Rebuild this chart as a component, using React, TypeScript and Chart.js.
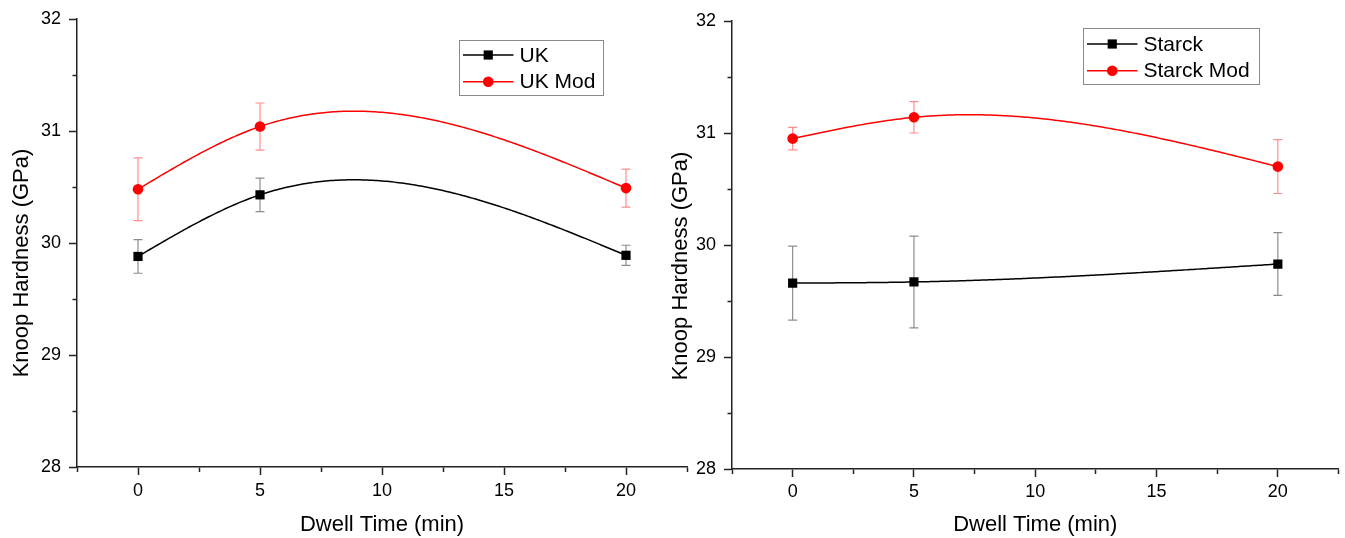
import React, { useEffect, useRef } from 'react';
import { Chart, registerables } from 'chart.js';

Chart.register(...registerables);

// ---------- data ----------
const dwellTimes = [0, 5, 20];

const ukHardness = [29.88, 30.43, 29.89];
const ukErr = [0.15, 0.15, 0.09];
const ukModHardness = [30.48, 31.04, 30.49];
const ukModErr = [0.28, 0.21, 0.17];

const starckHardness = [29.66, 29.67, 29.83];
const starckErr = [0.33, 0.41, 0.28];
const starckModHardness = [30.95, 31.14, 30.70];
const starckModErr = [0.1, 0.14, 0.24];

const xMin = -2.5;
const xMax = 22.5;
const xStep = 2.5;
const xLabelStep = 5;
const yMin = 28;
const yMax = 32;
const yStep = 0.5;

const FONT = '"Liberation Sans", Arial, Helvetica, sans-serif';

// ---------- helpers ----------
function naturalSpline(xs: number[], ys: number[]) {
  const n = xs.length;
  const M = new Array(n).fill(0);
  if (n > 2) {
    const a: number[] = [], b: number[] = [], c: number[] = [], d: number[] = [];
    for (let i = 1; i < n - 1; i++) {
      const h0 = xs[i] - xs[i - 1];
      const h1 = xs[i + 1] - xs[i];
      a.push(h0);
      b.push(2 * (h0 + h1));
      c.push(h1);
      d.push(6 * ((ys[i + 1] - ys[i]) / h1 - (ys[i] - ys[i - 1]) / h0));
    }
    const m = b.length;
    for (let i = 1; i < m; i++) {
      const w = a[i] / b[i - 1];
      b[i] -= w * c[i - 1];
      d[i] -= w * d[i - 1];
    }
    const sol = new Array(m);
    sol[m - 1] = d[m - 1] / b[m - 1];
    for (let i = m - 2; i >= 0; i--) sol[i] = (d[i] - c[i] * sol[i + 1]) / b[i];
    for (let i = 0; i < m; i++) M[i + 1] = sol[i];
  }
  return (x: number) => {
    let i = 0;
    while (i < n - 2 && x > xs[i + 1]) i++;
    const h = xs[i + 1] - xs[i];
    const A = (xs[i + 1] - x) / h;
    const B = (x - xs[i]) / h;
    return A * ys[i] + B * ys[i + 1] + ((A * A * A - A) * M[i] + (B * B * B - B) * M[i + 1]) * h * h / 6;
  };
}

function drawMarker(ctx: CanvasRenderingContext2D, style: string, x: number, y: number, r: number, color: string) {
  ctx.fillStyle = color;
  ctx.beginPath();
  if (style === 'rect') {
    const s = Math.SQRT1_2 * r;
    ctx.rect(x - s, y - s, 2 * s, 2 * s);
  } else {
    ctx.arc(x, y, r, 0, Math.PI * 2);
  }
  ctx.fill();
}

// error bars + spline connection, drawn under the markers
const splineErrorPlugin = {
  id: 'splineError',
  beforeDatasetsDraw(chart: any) {
    const { ctx, chartArea } = chart;
    const xs = chart.scales.x;
    const ys = chart.scales.y;
    ctx.save();
    ctx.beginPath();
    ctx.rect(chartArea.left, chartArea.top, chartArea.right - chartArea.left, chartArea.bottom - chartArea.top);
    ctx.clip();
    chart.data.datasets.forEach((ds: any) => {
      const px = ds.data.map((p: any) => p.x);
      const py = ds.data.map((p: any) => p.y);
      // error bars
      ctx.strokeStyle = ds.errorColor;
      ctx.lineWidth = 1.2;
      ds.data.forEach((p: any, i: number) => {
        const e = ds.errors[i];
        const x = xs.getPixelForValue(p.x);
        const yTop = ys.getPixelForValue(p.y + e);
        const yBot = ys.getPixelForValue(p.y - e);
        ctx.beginPath();
        ctx.moveTo(x, yTop);
        ctx.lineTo(x, yBot);
        ctx.moveTo(x - 4.5, yTop);
        ctx.lineTo(x + 4.5, yTop);
        ctx.moveTo(x - 4.5, yBot);
        ctx.lineTo(x + 4.5, yBot);
        ctx.stroke();
      });
      // spline
      const f = naturalSpline(px, py);
      const x0 = px[0];
      const x1 = px[px.length - 1];
      const steps = 200;
      ctx.strokeStyle = ds.borderColor;
      ctx.lineWidth = ds.borderWidth;
      ctx.lineJoin = 'round';
      ctx.beginPath();
      for (let k = 0; k <= steps; k++) {
        const xv = x0 + ((x1 - x0) * k) / steps;
        const X = xs.getPixelForValue(xv);
        const Y = ys.getPixelForValue(f(xv));
        if (k === 0) ctx.moveTo(X, Y);
        else ctx.lineTo(X, Y);
      }
      ctx.stroke();
    });
    ctx.restore();
  },
};

// framed legend inside the plot
const boxLegendPlugin = {
  id: 'boxLegend',
  afterDraw(chart: any, _args: any, opts: any) {
    const { ctx } = chart;
    const { x, y, width, height, rows, lineStart, lineEnd, textX, fontSize } = opts;
    ctx.save();
    ctx.fillStyle = '#ffffff';
    ctx.fillRect(x, y, width, height);
    ctx.strokeStyle = '#8a8a8a';
    ctx.lineWidth = 1;
    ctx.strokeRect(x + 0.5, y + 0.5, width, height);
    chart.data.datasets.forEach((ds: any, i: number) => {
      const cy = y + rows[i];
      ctx.strokeStyle = ds.borderColor;
      ctx.lineWidth = ds.borderWidth;
      ctx.beginPath();
      ctx.moveTo(x + lineStart, cy);
      ctx.lineTo(x + lineEnd, cy);
      ctx.stroke();
      drawMarker(ctx, ds.pointStyle, x + (lineStart + lineEnd) / 2, cy, ds.pointRadius, ds.pointBackgroundColor);
      ctx.fillStyle = '#000';
      ctx.font = `${fontSize}px ${FONT}`;
      ctx.textAlign = 'left';
      ctx.textBaseline = 'middle';
      ctx.fillText(ds.label, x + textX, cy + 1);
    });
    ctx.restore();
  },
};

function makeDataset(label: string, values: number[], errors: number[], color: string, errColor: string, style: string, radius: number) {
  return {
    label,
    data: dwellTimes.map((x, i) => ({ x, y: values[i] })),
    errors,
    errorColor: errColor,
    borderColor: color,
    borderWidth: 1.5,
    backgroundColor: color,
    pointBackgroundColor: color,
    pointBorderColor: color,
    pointBorderWidth: 0,
    pointStyle: style,
    pointRadius: radius,
    showLine: false,
  };
}

interface PanelLayout {
  padTop: number;
  padRight: number;
  yAxisWidth: number;
  xAxisHeight: number;
  yTitlePad: number;
  yTitleShift: number;
  xTickPad: number;
  legend: any;
}

function makeConfig(datasets: any[], lay: PanelLayout): any {
  const tickFont = { size: 18, family: FONT };
  const titleFont = { size: 22, family: FONT };
  return {
    type: 'scatter',
    data: { datasets },
    plugins: [splineErrorPlugin, boxLegendPlugin],
    options: {
      animation: false,
      responsive: false,
      devicePixelRatio: 1,
      layout: { padding: { top: lay.padTop, right: lay.padRight, left: 0, bottom: 0 } },
      plugins: {
        legend: { display: false },
        tooltip: { enabled: false },
        boxLegend: lay.legend,
      },
      scales: {
        x: {
          type: 'linear',
          min: xMin,
          max: xMax,
          ticks: {
            stepSize: xStep,
            autoSkip: false,
            maxRotation: 0,
            color: '#000',
            font: tickFont,
            padding: lay.xTickPad,
            callback: (v: number) => (v >= 0 && v <= 20 && v % xLabelStep === 0 ? String(v) : ''),
          },
          grid: {
            drawOnChartArea: false,
            drawTicks: true,
            tickLength: 8,
            tickColor: '#222',
            tickWidth: 1.5,
            tickBorderDash: (c: any) => (c.tick && c.tick.value % xLabelStep === 0 ? [] : [4.5, 100]),
          },
          border: { display: true, color: '#222', width: 1.5 },
          title: { display: true, text: 'Dwell Time (min)', color: '#000', font: titleFont, padding: { top: 0, bottom: 0 } },
          afterFit: (s: any) => {
            s.height = lay.xAxisHeight;
          },
        },
        y: {
          type: 'linear',
          min: yMin,
          max: yMax,
          ticks: {
            stepSize: yStep,
            autoSkip: false,
            color: '#000',
            font: tickFont,
            padding: 8,
            callback: (v: number) => (v % 1 === 0 ? String(v) : ''),
          },
          grid: {
            drawOnChartArea: false,
            drawTicks: true,
            tickLength: 8,
            tickColor: '#222',
            tickWidth: 1.5,
            tickBorderDash: (c: any) => (c.tick && c.tick.value % 1 === 0 ? [] : [0, 3.5, 10, 100]),
          },
          border: { display: true, color: '#222', width: 1.5 },
          title: { display: true, text: 'Knoop Hardness (GPa)', color: '#000', font: titleFont, padding: { top: lay.yTitlePad, bottom: 0 } },
          afterFit: (s: any) => {
            s.width = lay.yAxisWidth;
            if (!s.__titleShifted) {
              s.__titleShifted = true;
              const origDrawTitle = s.drawTitle;
              s.drawTitle = function (...args: any[]) {
                const t = this.top;
                const b = this.bottom;
                this.top = t + lay.yTitleShift;
                this.bottom = b + lay.yTitleShift;
                try {
                  origDrawTitle.apply(this, args);
                } finally {
                  this.top = t;
                  this.bottom = b;
                }
              };
            }
          },
        },
      },
    },
  };
}

const legendCommon = { lineStart: 4, lineEnd: 54.5, textX: 60.5, fontSize: 21 };

export default function App() {
  const leftRef = useRef<HTMLCanvasElement>(null);
  const rightRef = useRef<HTMLCanvasElement>(null);

  useEffect(() => {
    const black = '#000000';
    const red = '#ff0000';
    const blackErr = 'rgba(0,0,0,0.45)';
    const redErr = 'rgba(255,0,0,0.45)';

    const left = new Chart(
      leftRef.current as HTMLCanvasElement,
      makeConfig(
        [
          makeDataset('UK', ukHardness, ukErr, black, blackErr, 'rect', 6.5),
          makeDataset('UK Mod', ukModHardness, ukModErr, red, redErr, 'circle', 5.3),
        ],
        {
          padTop: 19,
          padRight: 13,
          yAxisWidth: 77,
          xAxisHeight: 71,
          yTitlePad: 8.5,
          yTitleShift: 20,
          xTickPad: 5,
          legend: { x: 459, y: 40, width: 144, height: 55, rows: [15, 41.7], ...legendCommon },
        }
      )
    );
    const right = new Chart(
      rightRef.current as HTMLCanvasElement,
      makeConfig(
        [
          makeDataset('Starck', starckHardness, starckErr, black, blackErr, 'rect', 6.5),
          makeDataset('Starck Mod', starckModHardness, starckModErr, red, redErr, 'circle', 5.3),
        ],
        {
          padTop: 21,
          padRight: 3,
          yAxisWidth: 92,
          xAxisHeight: 69,
          yTitlePad: 28,
          yTitleShift: 21,
          xTickPad: 4,
          legend: { x: 443, y: 28, width: 176, height: 56, rows: [16, 42.7], ...legendCommon },
        }
      )
    );
    return () => {
      left.destroy();
      right.destroy();
    };
  }, []);

  return (
    <div style={{ position: 'absolute', left: 0, top: 0, width: 1345, height: 538, background: '#fff' }}>
      <canvas ref={leftRef} width={700} height={538} style={{ position: 'absolute', left: 0, top: 0 }} />
      <canvas ref={rightRef} width={705} height={538} style={{ position: 'absolute', left: 640, top: 0 }} />
    </div>
  );
}
